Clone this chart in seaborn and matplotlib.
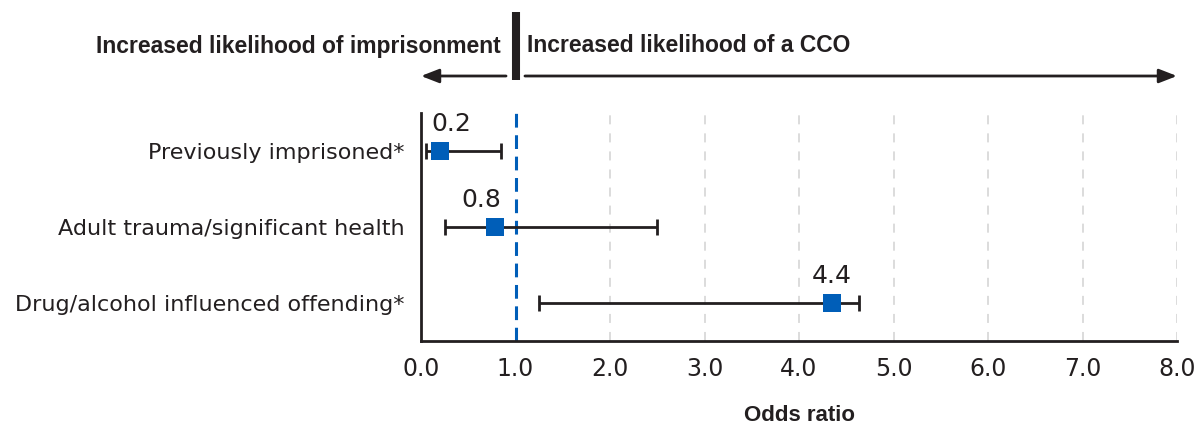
import numpy as np
import pandas as pd
import seaborn as sns
from matplotlib import pyplot as plt
import matplotlib.transforms as mtransforms

# 数据
factors = ["Previously imprisoned*", "Adult trauma/significant health", "Drug/alcohol influenced offending*"]
odds_ratio = [0.2, 0.78, 4.35]
ci_low = [0.05, 0.25, 1.25]
ci_high = [0.85, 2.5, 4.64]
value_labels = ["0.2", "0.8", "4.4"]
x_ticks = [0.0, 1.0, 2.0, 3.0, 4.0, 5.0, 6.0, 7.0, 8.0]

df = pd.DataFrame({"factor": factors, "or": odds_ratio, "lo": ci_low, "hi": ci_high})
df["pos"] = np.arange(len(df))

# 标签的水平微调（像素）
label_dx = [11, -13, 0]

sns.set_theme(style="white")
plt.rcParams["font.family"] = ["DejaVu Sans"]

dark = "#231f20"
blue = "#005eb8"

fig = plt.figure(figsize=(11.98, 4.25), dpi=100)
ax = fig.add_axes([421 / 1198, 1 - 340.5 / 425, (1177 - 421) / 1198, (340.5 - 113) / 425])

# 网格线
for x in x_ticks[2:]:
    ax.axvline(x, color="#d9d9d9", lw=1.3, ls=(0, (5, 5)), zorder=0)
ax.axvline(1.0, color=blue, lw=2.2, ls=(0, (4.5, 2.5)), zorder=1)

# 置信区间
ax.errorbar(df["or"], df["pos"], xerr=[df["or"] - df["lo"], df["hi"] - df["or"]],
            fmt="none", ecolor=dark, elinewidth=2, capsize=6, capthick=2, zorder=2)
sns.scatterplot(data=df, x="or", y="pos", marker="s", s=150, color=blue,
                edgecolor=blue, linewidth=0, zorder=3, ax=ax)

for i, row in df.iterrows():
    ax.annotate(value_labels[i], xy=(row["or"], row["pos"] - 0.26), xytext=(label_dx[i] * 0.72, 0),
                textcoords="offset points", ha="center", va="baseline",
                fontsize=18, color=dark)

ax.set_xlim(0, 8)
ax.set_ylim(2.5, -0.5)
ax.set_xticks(x_ticks)
ax.set_xticklabels([f"{x:.1f}" for x in x_ticks])
ax.set_yticks(df["pos"])
ax.set_yticklabels(df["factor"])
ax.tick_params(axis="x", length=0, pad=12, labelsize=17, labelcolor=dark)
ax.tick_params(axis="y", length=0, pad=12, labelsize=16, labelcolor=dark)
ax.set_xlabel("Odds ratio", fontsize=16, fontweight="bold", family="Liberation Sans",
              color=dark, labelpad=17)
ax.set_ylabel("")
ax.spines["top"].set_visible(False)
ax.spines["right"].set_visible(False)
for s in ["left", "bottom"]:
    ax.spines[s].set_color(dark)
    ax.spines[s].set_linewidth(2)

# 顶部说明
trans = mtransforms.blended_transform_factory(ax.transData, fig.transFigure)
y_arrow = 1 - 76 / 425
ax.plot([1.0, 1.0], [1 - 12 / 425, 1 - 80 / 425], color=dark, lw=5.8,
        transform=trans, clip_on=False, solid_capstyle="butt")
ax.annotate("", xy=(0.0, y_arrow), xytext=(0.9, y_arrow),
            xycoords=trans, textcoords=trans,
            arrowprops=dict(arrowstyle="-|>,head_length=0.9,head_width=0.35", color=dark, lw=2,
                            shrinkA=0, shrinkB=0))
ax.annotate("", xy=(8.0, y_arrow), xytext=(1.1, y_arrow),
            xycoords=trans, textcoords=trans,
            arrowprops=dict(arrowstyle="-|>,head_length=0.9,head_width=0.35", color=dark, lw=2,
                            shrinkA=0, shrinkB=0))
ax.text(0.84, 1 - 46 / 425, "Increased likelihood of imprisonment", transform=trans,
        ha="right", va="center", fontsize=16.5, fontweight="bold", family="Liberation Sans", color=dark)
ax.text(1.12, 1 - 46 / 425, "Increased likelihood of a CCO", transform=trans,
        ha="left", va="center", fontsize=16.5, fontweight="bold", family="Liberation Sans", color=dark)

plt.savefig("out.png", dpi=100)
